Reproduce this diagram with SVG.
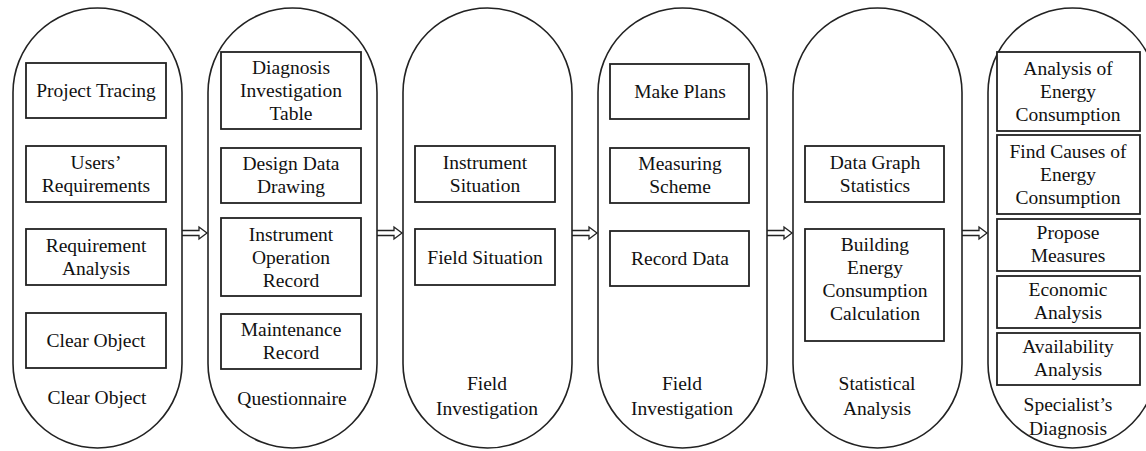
<svg xmlns="http://www.w3.org/2000/svg" width="1146" height="451" viewBox="0 0 1146 451">
<style>
.cap{fill:none;stroke:#222;stroke-width:1.6}
.box{fill:#fff;stroke:#222;stroke-width:1.8}
text{font-family:"Liberation Serif","Times New Roman",serif;font-size:19.5px;fill:#111;text-anchor:middle}
.arr{fill:#fff;stroke:#222;stroke-width:1.3;stroke-linejoin:miter}
</style>
<rect width="1146" height="451" fill="#fff"/>
<g id="connectors">
<path class="arr" d="M182,230.5 H199 V227 L207,233 L199,239 V235.5 H182"/>
<path class="arr" d="M377,230.5 H394 V227 L402,233 L394,239 V235.5 H377"/>
<path class="arr" d="M572,230.5 H589 V227 L597,233 L589,239 V235.5 H572"/>
<path class="arr" d="M767,230.5 H784 V227 L792,233 L784,239 V235.5 H767"/>
<path class="arr" d="M962,230.5 H979 V227 L987,233 L979,239 V235.5 H962"/>
</g>
<g id="stage1">
<rect class="cap" x="13" y="8" width="169" height="440" rx="84.5"/>
<g id="s1-project"><rect class="box" x="26" y="63" width="140" height="55"/><text x="96" y="97">Project Tracing</text></g>
<g id="s1-users"><rect class="box" x="26" y="146" width="140" height="56"/><text x="96" y="169">Users’</text><text x="96" y="192">Requirements</text></g>
<g id="s1-req"><rect class="box" x="26" y="229" width="140" height="56"/><text x="96" y="252">Requirement</text><text x="96" y="275">Analysis</text></g>
<g id="s1-clear"><rect class="box" x="26" y="313" width="140" height="55"/><text x="96" y="347">Clear Object</text></g>
<text x="97" y="404">Clear Object</text>
</g>
<g id="stage2">
<rect class="cap" x="208" y="8" width="169" height="440" rx="84.5"/>
<g id="s2-diag"><rect class="box" x="221" y="52" width="140" height="77"/><text x="291" y="74">Diagnosis</text><text x="291" y="97">Investigation</text><text x="291" y="120">Table</text></g>
<g id="s2-design"><rect class="box" x="221" y="148" width="140" height="55"/><text x="291" y="170">Design Data</text><text x="291" y="193">Drawing</text></g>
<g id="s2-instr"><rect class="box" x="221" y="218" width="140" height="78"/><text x="291" y="240.5">Instrument</text><text x="291" y="263.5">Operation</text><text x="291" y="286.5">Record</text></g>
<g id="s2-maint"><rect class="box" x="221" y="314" width="140" height="55"/><text x="291" y="336">Maintenance</text><text x="291" y="359">Record</text></g>
<text x="292" y="405">Questionnaire</text>
</g>
<g id="stage3">
<rect class="cap" x="403" y="8" width="169" height="440" rx="84.5"/>
<g id="s3-instr"><rect class="box" x="415" y="146" width="140" height="56"/><text x="485" y="169">Instrument</text><text x="485" y="192">Situation</text></g>
<g id="s3-field"><rect class="box" x="415" y="229" width="140" height="56"/><text x="485" y="264">Field Situation</text></g>
<text x="487" y="390">Field</text><text x="487" y="415">Investigation</text>
</g>
<g id="stage4">
<rect class="cap" x="598" y="8" width="169" height="440" rx="84.5"/>
<g id="s4-plans"><rect class="box" x="610" y="64" width="139" height="55"/><text x="680" y="98">Make Plans</text></g>
<g id="s4-measure"><rect class="box" x="610" y="148" width="139" height="55"/><text x="680" y="170">Measuring</text><text x="680" y="193">Scheme</text></g>
<g id="s4-record"><rect class="box" x="610" y="231" width="139" height="55"/><text x="680" y="265">Record Data</text></g>
<text x="682" y="390">Field</text><text x="682" y="415">Investigation</text>
</g>
<g id="stage5">
<rect class="cap" x="793" y="8" width="169" height="440" rx="84.5"/>
<g id="s5-graph"><rect class="box" x="805" y="146" width="139" height="56"/><text x="875" y="169">Data Graph</text><text x="875" y="192">Statistics</text></g>
<g id="s5-calc"><rect class="box" x="805" y="229" width="139" height="112"/><text x="875" y="251">Building</text><text x="875" y="274">Energy</text><text x="875" y="297">Consumption</text><text x="875" y="320">Calculation</text></g>
<text x="877" y="390">Statistical</text><text x="877" y="415">Analysis</text>
</g>
<g id="stage6">
<rect class="cap" x="988" y="8" width="169" height="440" rx="84.5"/>
<g id="s6-analysis"><rect class="box" x="997" y="52" width="143" height="79"/><text x="1068" y="74.5">Analysis of</text><text x="1068" y="97.5">Energy</text><text x="1068" y="120.5">Consumption</text></g>
<g id="s6-causes"><rect class="box" x="997" y="135" width="143" height="79"/><text x="1068" y="157.5">Find Causes of</text><text x="1068" y="180.5">Energy</text><text x="1068" y="203.5">Consumption</text></g>
<g id="s6-propose"><rect class="box" x="997" y="219" width="143" height="52"/><text x="1068" y="239">Propose</text><text x="1068" y="262">Measures</text></g>
<g id="s6-econ"><rect class="box" x="997" y="276" width="143" height="52"/><text x="1068" y="296">Economic</text><text x="1068" y="319">Analysis</text></g>
<g id="s6-avail"><rect class="box" x="997" y="333" width="143" height="52"/><text x="1068" y="353">Availability</text><text x="1068" y="376">Analysis</text></g>
<text x="1068" y="411">Specialist’s</text><text x="1068" y="435">Diagnosis</text>
</g>
</svg>
